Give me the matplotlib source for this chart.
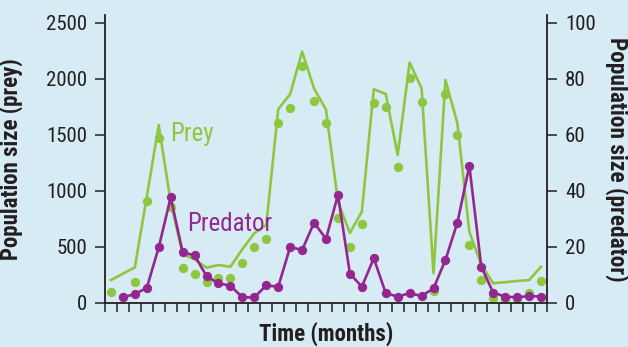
import matplotlib.pyplot as plt

# =======================
# Data
# =======================
prey_months = [m + 0.5 for m in range(37)]
pred_months = [m + 0.5 for m in range(1, 37)]

# observed prey counts (dots)
prey_obs = [95, 50, 190, 910, 1470, 860, 310, 262, 190, 220,
            220, 354, 497, 571, 1604, 1744, 2119, 1806, 1604, 756,
            503, 705, 1789, 1753, 1211, 2006, 1792, 110, 1866, 1500,
            515, 205, 45, 40, 40, 90, 193]

# prey curve (solid line)
prey_curve = [205, 262, 318, 950, 1589, 900, 435, 390, 315, 339,
              324, 480, 622, 696, 1730, 1865, 2244, 1915, 1726, 905,
              625, 815, 1908, 1866, 1321, 2146, 1917, 265, 1991, 1604,
              637, 340, 176, 186, 196, 205, 324]

# predator counts
predator = [2.0, 3.2, 5.4, 19.9, 37.7, 18.1, 17.0, 9.6, 7.0, 6.2,
            2.0, 2.0, 6.3, 5.8, 20.0, 18.9, 28.7, 22.9, 38.6, 10.5,
            5.8, 16.0, 3.5, 2.3, 3.5, 2.5, 5.2, 15.4, 28.7, 49.0,
            12.9, 3.7, 2.3, 2.0, 2.5, 2.3]

prey_ticks = [0, 500, 1000, 1500, 2000, 2500]
pred_ticks = [0, 20, 40, 60, 80, 100]

# =======================
# Style
# =======================
plt.rcParams['font.family'] = ['Roboto Condensed', 'DejaVu Sans']
BG = '#d7ebf4'
GREEN = '#8dc63f'
PURPLE = '#93278f'
INK = '#231f20'

fig = plt.figure(figsize=(6.28, 3.47), dpi=100, facecolor=BG)
ax = fig.add_axes([105 / 628, 1 - 303 / 347, 442 / 628, 288 / 347])
ax.set_facecolor(BG)

# ---- prey ----
ax.plot(prey_months, prey_obs, 'o', color=GREEN, ms=6.7, mec='none', zorder=2)
ax.plot(prey_months, prey_curve, '-', color=GREEN, lw=1.9, zorder=3)
ax.set_xlim(0, 37)
ax.set_ylim(0, 2571)

ax.text(5.44, 1446, 'Prey', color=GREEN, fontsize=18, va='baseline')
ax.text(6.87, 643, 'Predator', color=PURPLE, fontsize=18, va='baseline')

# ---- predator ----
ax2 = ax.twinx()
ax2.plot(pred_months, predator, '-o', color=PURPLE, lw=1.9, ms=6.7, mec='none')
ax2.set_ylim(0, 2571 / 25)

# =======================
# Axes
# =======================
for s in ['top', 'right']:
    ax.spines[s].set_visible(False)
for s in ['top', 'left', 'bottom']:
    ax2.spines[s].set_visible(False)
for sp in [ax.spines['left'], ax.spines['bottom'], ax2.spines['right']]:
    sp.set_linewidth(1.3)
    sp.set_color(INK)

ax.set_xticks(range(38))
ax.set_xticklabels([])
ax.tick_params(axis='x', direction='out', length=6.5, width=1.1, color=INK)
ax.set_yticks(prey_ticks)
ax.tick_params(axis='y', direction='out', length=7, width=1.1, color=INK,
               labelsize=15, labelcolor=INK, pad=6)
ax2.set_yticks(pred_ticks)
ax2.tick_params(axis='y', direction='out', length=7, width=1.1, color=INK,
                labelsize=15, labelcolor=INK, pad=6)

ax.set_ylabel('Population size (prey)', fontsize=16.5, fontweight='bold', color=INK)
ax.yaxis.set_label_coords(-0.1855, 0.5)
ax2.set_ylabel('Population size (predator)', fontsize=16.8, fontweight='bold',
               color=INK, rotation=270, va='center')
ax2.yaxis.set_label_coords(1.158, 0.5)
ax.set_xlabel('Time (months)', fontsize=16.5, fontweight='bold', color=INK)
ax.xaxis.set_label_coords(0.5, -0.066)
ax.xaxis.label.set_va('top')

fig.savefig('out.png', dpi=100, facecolor=BG)
